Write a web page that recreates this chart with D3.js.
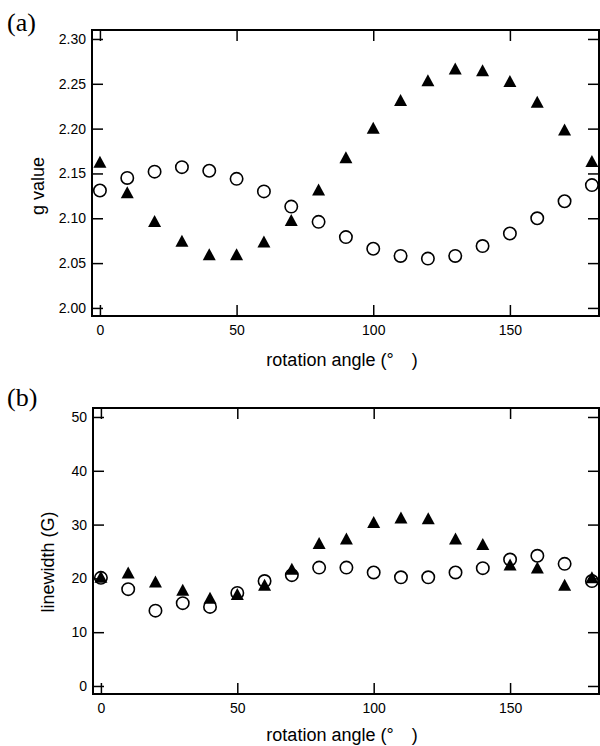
<!DOCTYPE html>
<html lang="en">

<head>
    <meta charset="UTF-8">
    <title>g value and linewidth vs rotation angle</title>
    <script src="https://d3js.org/d3.v7.min.js"></script>
    <style>
        body {
            margin: 0;
            background: #fff;
        }

        .tick text {
            font-family: "Liberation Sans", Arial, sans-serif;
            font-size: 14px;
            fill: #000;
        }

        .axis-title {
            font-family: "Liberation Sans", Arial, sans-serif;
            font-size: 18px;
            fill: #000;
        }

        .panel-label {
            font-family: "Liberation Serif", "Times New Roman", serif;
            font-size: 26px;
            fill: #000;
        }
    </style>
</head>

<body>
    <div id="chart"></div>

    <script>
        // rotation angles (degrees)
        var angles = [0, 10, 20, 30, 40, 50, 60, 70, 80, 90, 100, 110, 120, 130, 140, 150, 160, 170, 180];

        // (a) g value
        var gCircle = [2.131, 2.145, 2.152, 2.157, 2.153, 2.144, 2.130, 2.113, 2.096, 2.079, 2.066, 2.058, 2.055, 2.058, 2.069, 2.083, 2.100, 2.119, 2.137];
        var gTriangle = [2.163, 2.129, 2.097, 2.075, 2.060, 2.060, 2.074, 2.098, 2.132, 2.168, 2.201, 2.232, 2.254, 2.267, 2.265, 2.253, 2.230, 2.199, 2.164];

        // (b) linewidth (G)
        var lwCircle = [20.1, 18.0, 14.0, 15.4, 14.7, 17.3, 19.5, 20.6, 22.0, 22.0, 21.1, 20.2, 20.2, 21.1, 21.9, 23.5, 24.2, 22.7, 19.5];
        var lwTriangle = [20.3, 21.1, 19.4, 17.9, 16.4, 17.1, 18.8, 21.8, 26.6, 27.4, 30.5, 31.3, 31.2, 27.4, 26.4, 22.6, 22.0, 18.8, 20.2];

        var xTicks = [0, 50, 100, 150];
        var gTicks = [2.00, 2.05, 2.10, 2.15, 2.20, 2.25, 2.30];
        var lwTicks = [0, 10, 20, 30, 40, 50];

        var width = 600, height = 746;

        var svg = d3.select("#chart")
            .append("svg")
            .attr("width", width)
            .attr("height", height);

        // triangle centred on its bounding box
        function triPath(w, h) {
            return "M0," + (-h / 2) + "L" + (w / 2) + "," + (h / 2) + "L" + (-w / 2) + "," + (h / 2) + "Z";
        }

        function drawPanel(opt) {
            var x = d3.scaleLinear().domain([-2.9, 182.6]).range([opt.left, opt.right]);
            var y = d3.scaleLinear().domain(opt.yDomain).range([opt.bottom, opt.top]);

            var g = svg.append("g");

            // axes with inward ticks on all four sides
            g.append("g")
                .attr("transform", "translate(0," + opt.bottom + ")")
                .call(d3.axisBottom(x).tickValues(xTicks).tickSize(-11).tickPadding(9).tickFormat(d3.format("d")));
            g.append("g")
                .attr("transform", "translate(0," + opt.top + ")")
                .call(d3.axisTop(x).tickValues(xTicks).tickSize(-11).tickFormat(""));
            g.append("g")
                .attr("transform", "translate(" + opt.left + ",0)")
                .call(d3.axisLeft(y).tickValues(opt.ticks).tickSize(-11).tickPadding(6).tickFormat(opt.fmt));
            g.append("g")
                .attr("transform", "translate(" + opt.right + ",0)")
                .call(d3.axisRight(y).tickValues(opt.ticks).tickSize(-11).tickFormat(""));

            g.selectAll(".domain").remove();
            g.selectAll(".tick line").attr("stroke", "#000").attr("stroke-width", 1.5);

            // frame
            g.append("rect")
                .attr("x", opt.left)
                .attr("y", opt.top)
                .attr("width", opt.right - opt.left)
                .attr("height", opt.bottom - opt.top)
                .attr("fill", "none")
                .attr("stroke", "#000")
                .attr("stroke-width", 2);

            // open circles
            g.selectAll(".circ")
                .data(angles)
                .enter()
                .append("circle")
                .attr("cx", function (d) { return x(d); })
                .attr("cy", function (d, i) { return y(opt.circle[i]); })
                .attr("r", 6.2)
                .attr("fill", "none")
                .attr("stroke", "#000")
                .attr("stroke-width", 1.6);

            // filled triangles
            g.selectAll(".tri")
                .data(angles)
                .enter()
                .append("path")
                .attr("d", triPath(13, 12))
                .attr("transform", function (d, i) { return "translate(" + x(d) + "," + y(opt.triangle[i]) + ")"; })
                .attr("fill", "#000");

            // x axis title
            g.append("text")
                .attr("class", "axis-title")
                .attr("x", 342)
                .attr("y", opt.xTitleY)
                .attr("text-anchor", "middle")
                .text("rotation angle (°\u3000)");

            // y axis title
            g.append("text")
                .attr("class", "axis-title")
                .attr("transform", "translate(" + opt.yTitleX + "," + opt.yTitleY + ") rotate(-90)")
                .attr("text-anchor", "middle")
                .text(opt.yTitle);

            // panel label
            svg.append("text")
                .attr("class", "panel-label")
                .attr("x", 7)
                .attr("y", opt.labelY)
                .text(opt.label);
        }

        drawPanel({
            left: 92, right: 599, top: 30, bottom: 316,
            yDomain: [1.991, 2.31], ticks: gTicks, fmt: d3.format(".2f"),
            circle: gCircle, triangle: gTriangle,
            xTitleY: 366, yTitle: "g value", yTitleX: 44, yTitleY: 186,
            label: "(a)", labelY: 31
        });

        drawPanel({
            left: 93, right: 599, top: 408, bottom: 694,
            yDomain: [-1.49, 51.67], ticks: lwTicks, fmt: d3.format("d"),
            circle: lwCircle, triangle: lwTriangle,
            xTitleY: 741, yTitle: "linewidth (G)", yTitleX: 54, yTitleY: 562,
            label: "(b)", labelY: 406
        });
    </script>
</body>

</html>
